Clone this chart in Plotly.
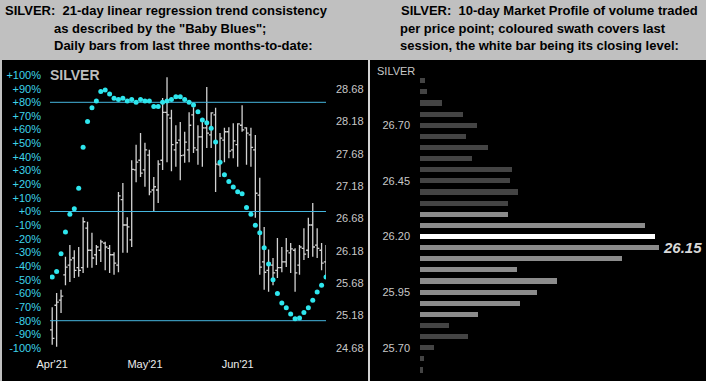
import plotly.graph_objects as go

W, H = 706, 381

# ---------------- Left panel data ----------------
bar_index = list(range(63))
opens = [24.96, 25.34, 25.42, 25.81, 25.96, 26.07, 25.92, 25.92, 26.53, 26.19,
         26.12, 26.19, 26.30, 26.22, 26.12, 25.96, 26.97, 26.58, 26.35, 27.43,
         27.58, 27.43, 27.66, 27.12, 27.12, 27.58, 28.32, 28.23, 27.74, 27.89,
         27.66, 27.74, 28.28, 27.74, 27.94, 28.08, 27.97, 28.28, 27.51, 27.89,
         28.02, 27.74, 27.82, 28.12, 28.08, 27.97, 27.74, 27.04, 26.01, 25.88,
         25.96, 25.88, 25.92, 26.01, 26.15, 26.19, 25.96, 26.22, 26.19, 26.58,
         26.27, 26.19, 26.01]
highs = [25.31, 25.53, 25.58, 26.09, 26.27, 26.19, 26.24, 26.70, 26.63, 26.46,
         26.27, 26.35, 26.32, 26.27, 26.16, 27.09, 27.23, 26.70, 27.58, 27.82,
         28.00, 27.85, 27.74, 27.32, 27.58, 28.54, 28.86, 28.36, 28.12, 28.17,
         28.02, 28.32, 28.40, 28.12, 28.23, 28.71, 28.32, 28.39, 28.00, 28.08,
         28.09, 28.15, 28.15, 28.43, 28.09, 28.08, 27.97, 27.31, 26.55, 26.20,
         26.07, 26.38, 26.24, 26.38, 26.30, 26.22, 26.27, 26.53, 26.69, 26.92,
         26.53, 26.30, 26.27]
lows = [24.73, 24.70, 25.22, 25.65, 25.70, 25.76, 25.78, 25.84, 25.92, 25.92,
        25.96, 26.01, 25.88, 25.84, 25.81, 25.85, 26.15, 26.15, 26.24, 27.24,
        27.32, 27.17, 27.04, 26.78, 26.92, 27.43, 27.55, 27.41, 27.48, 27.27,
        27.54, 27.55, 27.69, 27.51, 27.48, 27.77, 27.77, 27.09, 27.32, 27.55,
        27.61, 27.61, 27.48, 28.02, 27.51, 27.48, 26.69, 25.81, 25.58, 25.55,
        25.65, 25.76, 25.85, 25.93, 25.84, 25.55, 25.81, 26.04, 26.07, 26.09,
        26.07, 25.88, 25.78]
closes = [24.83, 25.39, 25.48, 25.93, 26.04, 25.88, 25.88, 26.63, 26.19, 26.07,
          26.24, 26.32, 26.24, 26.12, 25.99, 27.03, 26.58, 26.55, 27.44, 27.55,
          27.38, 27.74, 27.09, 27.17, 27.52, 28.32, 28.28, 27.82, 27.85, 27.65,
          27.86, 28.12, 27.77, 27.94, 28.08, 28.00, 28.31, 27.52, 27.92, 28.02,
          27.72, 27.88, 28.14, 28.05, 28.00, 27.78, 27.07, 25.93, 25.85, 25.99,
          25.84, 25.92, 26.01, 26.18, 26.21, 25.84, 26.24, 26.13, 26.58, 26.24,
          26.22, 25.99, 26.15]
baby_blues = [-48, -44, -31, -15, -2, 2, 17, 47, 66, 76,
              81, 88, 89, 86, 83, 82, 83, 81, 82, 80,
              82, 81, 81, 77, 77, 80, 81, 82, 84, 84,
              82, 80, 78, 73, 67, 65, 61, 51, 36, 27,
              22, 18, 14.5, 13, 3, -2, -10, -15.5, -26.5, -38.5,
              -50, -60, -67, -70.5, -75, -78.5, -78, -74, -70.5, -65,
              -59, -54, -48]
month_tick_idx = [0, 21, 42]
month_tick_text = ["Apr'21", "May'21", "Jun'21"]
pct_ticks = [-100, -90, -80, -70, -60, -50, -40, -30, -20, -10, 0,
             10, 20, 30, 40, 50, 60, 70, 80, 90, 100]
pct_tick_text = ["-100%", "-90%", "-80%", "-70%", "-60%", "-50%", "-40%", "-30%",
                 "-20%", "-10%", "+0%", "+10%", "+20%", "+30%", "+40%", "+50%",
                 "+60%", "+70%", "+80%", "+90%", "+100%"]
price_ticks = [24.68, 25.18, 25.68, 26.18, 26.68, 27.18, 27.68, 28.18, 28.68]
price_tick_text = ["24.68", "25.18", "25.68", "26.18", "26.68", "27.18", "27.68", "28.18", "28.68"]
consistency_levels = [80, 0, -80]

# ---------------- Right panel data ----------------
profile_prices = [26.90, 26.85, 26.80, 26.75, 26.70, 26.65, 26.60, 26.55, 26.50,
                  26.45, 26.40, 26.35, 26.30, 26.25, 26.20, 26.15, 26.10, 26.05,
                  26.00, 25.95, 25.90, 25.85, 25.80, 25.75, 25.70, 25.65, 25.60]
profile_volume = [5, 7, 22, 43, 57, 46, 68, 52, 92,
                  90, 98, 88, 88, 225, 235, 239, 202, 97,
                  137, 117, 100, 58, 29, 48, 14, 4, 3]
swath_low, swath_high = 25.85, 26.30
close_level = 26.20
close_label = "26.15"
profile_ticks = [25.70, 25.95, 26.20, 26.45, 26.70]
profile_tick_text = ["25.70", "25.95", "26.20", "26.45", "26.70"]

# ---------------- helpers (pixel -> paper) ----------------
def fx(px):
    return px / W

def fy(py):
    return (H - py) / H

FONT = "Liberation Sans, Arial, sans-serif"
CYAN_TXT = "#3ed4ea"
DOT = "#2ee6ee"
LINE = "#45b6de"
GRAY_TXT = "#c8c8c8"

fig = go.Figure()

for lvl in consistency_levels:
    fig.add_trace(go.Scatter(
        x=[-0.5, 62], y=[lvl, lvl], mode="lines",
        line=dict(color=LINE, width=1), xaxis="x", yaxis="y2",
        hoverinfo="skip", showlegend=False,
    ))

fig.add_trace(go.Ohlc(
    x=bar_index, open=opens, high=highs, low=lows, close=closes,
    increasing=dict(line=dict(color="#d2d2d2", width=1.3)),
    decreasing=dict(line=dict(color="#d2d2d2", width=1.3)),
    tickwidth=0.5, xaxis="x", yaxis="y", hoverinfo="skip", showlegend=False,
))
fig.add_trace(go.Scatter(
    x=bar_index, y=baby_blues, mode="markers",
    marker=dict(color=DOT, size=5, symbol="circle"),
    xaxis="x", yaxis="y2", hoverinfo="skip", showlegend=False,
))

bar_colors = []
for p in profile_prices:
    if abs(p - close_level) < 1e-6:
        bar_colors.append("#ffffff")
    elif swath_low - 1e-6 <= p <= swath_high + 1e-6:
        bar_colors.append("#8c8c8c")
    else:
        bar_colors.append("#444444")

fig.add_trace(go.Bar(
    y=profile_prices, x=profile_volume, orientation="h",
    marker=dict(color=bar_colors, line=dict(width=0)), width=0.023,
    xaxis="x2", yaxis="y3", hoverinfo="skip", showlegend=False,
))

shapes = [
    dict(type="rect", xref="paper", yref="paper", x0=fx(2), x1=fx(368), y0=0, y1=fy(60),
         fillcolor="black", line=dict(width=0), layer="below"),
    dict(type="rect", xref="paper", yref="paper", x0=fx(370), x1=1, y0=0, y1=fy(60),
         fillcolor="black", line=dict(width=0), layer="below"),
    dict(type="line", xref="paper", yref="paper", x0=fx(369), x1=fx(369), y0=0, y1=fy(60),
         line=dict(color="#e6e6e6", width=1), layer="below"),
]

left_dom_y = [fy(348), fy(75)]
annotations = [
    dict(text="<b>SILVER:  21-day linear regression trend consistency</b>", x=fx(3), y=fy(11)),
    dict(text="<b>as described by the \"Baby Blues\";</b>", x=fx(52), y=fy(28)),
    dict(text="<b>Daily bars from last three months-to-date:</b>", x=fx(52), y=fy(45)),
    dict(text="<b>SILVER:  10-day Market Profile of volume traded</b>", x=fx(399), y=fy(11)),
    dict(text="<b>per price point; coloured swath covers last</b>", x=fx(398), y=fy(28)),
    dict(text="<b>session, the white bar being its closing level:</b>", x=fx(398), y=fy(45)),
]
for a in annotations:
    a.update(xref="paper", yref="paper", xanchor="left", yanchor="middle", showarrow=False,
             font=dict(family=FONT, size=13, color="black"))
annotations += [
    dict(text="<b>SILVER</b>", x=fx(48), y=fy(75), xref="paper", yref="paper",
         xanchor="left", yanchor="middle", showarrow=False,
         font=dict(family=FONT, size=14, color="#bdbdbd")),
    dict(text="SILVER", x=fx(375), y=fy(71), xref="paper", yref="paper",
         xanchor="left", yanchor="middle", showarrow=False,
         font=dict(family=FONT, size=11, color=GRAY_TXT)),
    dict(text="<b><i>" + close_label + "</i></b>", x=max(profile_volume),
         y=float(close_label), xref="x2", yref="y3", xanchor="left", yanchor="middle",
         xshift=2, showarrow=False, font=dict(family=FONT, size=15, color="#d8d8d8")),
]

fig.update_layout(
    template=None,
    width=W, height=H, margin=dict(l=0, r=0, t=0, b=0, autoexpand=False),
    paper_bgcolor="#c0c0c0", plot_bgcolor="black",
    shapes=shapes, annotations=annotations, showlegend=False,
    bargap=0,
    xaxis=dict(domain=[fx(50), fx(326)], range=[-0.5, 62], anchor="y", automargin=False,
               tickvals=month_tick_idx, ticktext=month_tick_text,
               tickfont=dict(family=FONT, size=11, color="#ececec"),
               showgrid=False, zeroline=False, showline=False, ticks="",
               ticklabelstandoff=8, rangeslider=dict(visible=False), fixedrange=True),
    yaxis=dict(domain=left_dom_y, range=[24.68, 24.68 + 273 / 64.75], side="right",
               anchor="x", automargin=False, tickvals=price_ticks, ticktext=price_tick_text,
               tickfont=dict(family=FONT, size=11, color=GRAY_TXT),
               showgrid=False, zeroline=False, showline=False, ticks="",
               ticklabelstandoff=9),
    yaxis2=dict(range=[-100, 100], overlaying="y", side="left", anchor="x", automargin=False,
                tickvals=pct_ticks, ticktext=pct_tick_text,
                tickfont=dict(family=FONT, size=11, color=CYAN_TXT),
                showgrid=False, zeroline=False, showline=False, ticks="",
                ticklabelstandoff=8),
    xaxis2=dict(domain=[fx(420), fx(700)], range=[0, 280], anchor="y3", visible=False,
                automargin=False, zeroline=False),
    yaxis3=dict(domain=[fy(378), fy(70)], range=[25.564, 26.948], anchor="x2",
                automargin=False, tickvals=profile_ticks, ticktext=profile_tick_text,
                tickfont=dict(family=FONT, size=11, color=GRAY_TXT),
                showgrid=False, zeroline=False, showline=False, ticks="",
                ticklabelstandoff=9),
)

fig.write_html(
    "out.html",
    config={"displayModeBar": False, "responsive": False},
    post_script="document.body.style.margin='0';document.body.style.overflow='hidden';",
)
